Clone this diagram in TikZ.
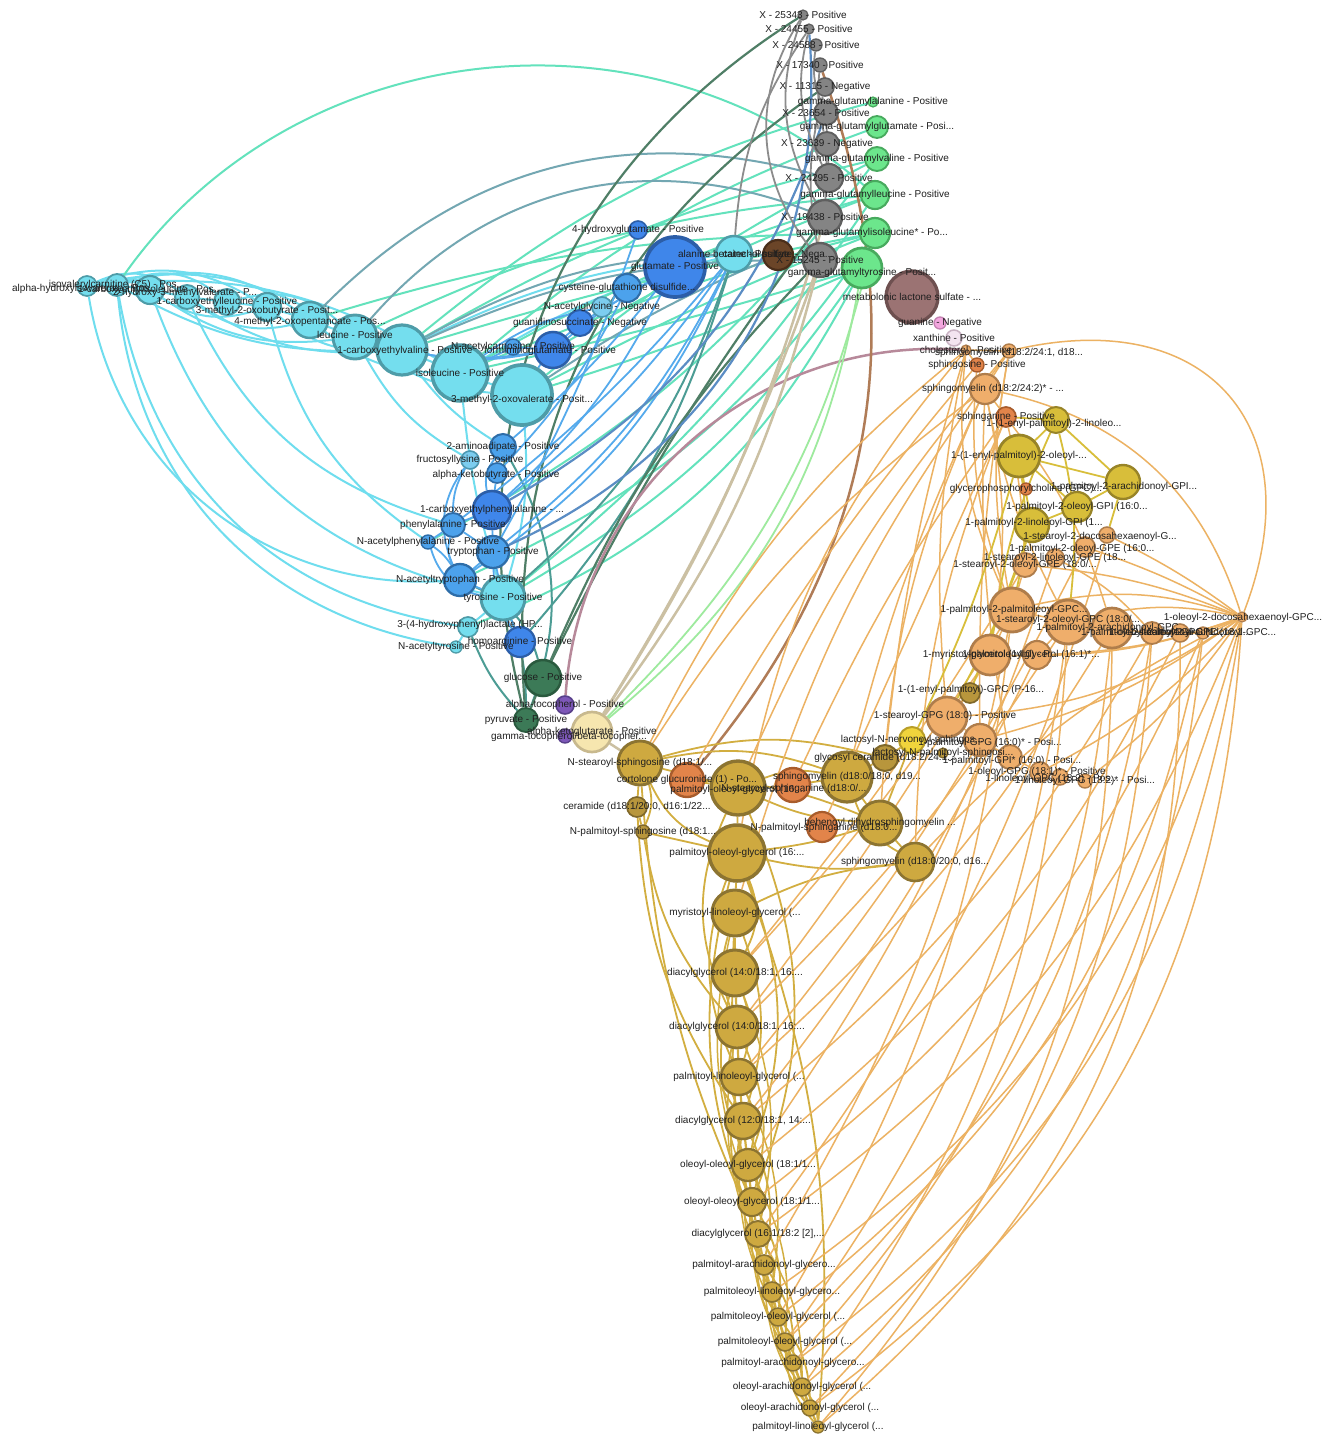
\documentclass[tikz,border=0pt]{standalone}
\usepackage{fontspec}
\setmainfont{Liberation Sans}
\pgfdeclarelayer{bg}\pgfdeclarelayer{edges}\pgfdeclarelayer{labs}
\pgfsetlayers{bg,edges,main,labs}
% node colours
\definecolor{cyF}{HTML}{74DEEE}\definecolor{cyD}{HTML}{4E9CA8}
\definecolor{blF}{HTML}{3F86EA}\definecolor{blD}{HTML}{2C5EA8}
\definecolor{mbF}{HTML}{4CA2EC}\definecolor{mbD}{HTML}{2E6DA8}
\definecolor{lbF}{HTML}{7CCDEF}\definecolor{lbD}{HTML}{4C97B0}
\definecolor{grF}{HTML}{848484}\definecolor{grD}{HTML}{5F5F5F}
\definecolor{gnF}{HTML}{6CE68C}\definecolor{gnD}{HTML}{48AA5E}
\definecolor{brF}{HTML}{6B4528}\definecolor{brD}{HTML}{4A2E1A}
\definecolor{mvF}{HTML}{9B7373}\definecolor{mvD}{HTML}{6E5050}
\definecolor{pkF}{HTML}{F2A6DE}\definecolor{pkD}{HTML}{C482B2}
\definecolor{xnF}{HTML}{F3E4F0}\definecolor{xnD}{HTML}{C9B2C3}
\definecolor{dgF}{HTML}{3C7A57}\definecolor{dgD}{HTML}{2A5A3E}
\definecolor{ppF}{HTML}{7D57B8}\definecolor{ppD}{HTML}{58408A}
\definecolor{lyF}{HTML}{F6E6AF}\definecolor{lyD}{HTML}{C8B98E}
\definecolor{gdF}{HTML}{CEA940}\definecolor{gdD}{HTML}{8C7431}
\definecolor{ywF}{HTML}{D8BE3A}\definecolor{ywD}{HTML}{988428}
\definecolor{loF}{HTML}{EFAE6B}\definecolor{loD}{HTML}{AF7D4B}
\definecolor{doF}{HTML}{E2844A}\definecolor{doD}{HTML}{A85C2C}
\definecolor{byF}{HTML}{F0D43C}\definecolor{byD}{HTML}{B89E28}
\definecolor{kgF}{HTML}{B8963C}\definecolor{kgD}{HTML}{80682A}
% edge colours
\definecolor{eCy}{HTML}{6FDDEE}\definecolor{eAq}{HTML}{63E2BC}
\definecolor{eBl}{HTML}{55AAEC}\definecolor{eSb}{HTML}{5B8DC4}
\definecolor{eGb}{HTML}{73A7B2}\definecolor{eDt}{HTML}{4C9C94}
\definecolor{eDg}{HTML}{4F7E66}\definecolor{eGr}{HTML}{8C8C8C}
\definecolor{eGd}{HTML}{D2AE40}\definecolor{eOr}{HTML}{ECB263}
\definecolor{eMv}{HTML}{B7899A}\definecolor{eBr}{HTML}{B07C57}
\definecolor{eTn}{HTML}{CBC0A3}\definecolor{eLg}{HTML}{9EEA9E}
\definecolor{eYw}{HTML}{D8BE3A}
\tikzset{
 nd/.style 2 args={circle,inner sep=0pt,fill=#1,draw=#2},
 cyn/.style={nd={cyF}{cyD}}, blu/.style={nd={blF}{blD}}, mbl/.style={nd={mbF}{mbD}},
 lbl/.style={nd={lbF}{lbD}}, gry/.style={nd={grF}{grD}}, grn/.style={nd={gnF}{gnD}},
 brn/.style={nd={brF}{brD}}, mve/.style={nd={mvF}{mvD}}, pnk/.style={nd={pkF}{pkD}},
 xnt/.style={nd={xnF}{xnD}}, dgn/.style={nd={dgF}{dgD}}, prp/.style={nd={ppF}{ppD}},
 lye/.style={nd={lyF}{lyD}}, gld/.style={nd={gdF}{gdD}}, ylw/.style={nd={ywF}{ywD}},
 lor/.style={nd={loF}{loD}}, dor/.style={nd={doF}{doD}}, byl/.style={nd={byF}{byD}},
 kgd/.style={nd={kgF}{kgD}},
 txt/.style={inner sep=0pt,font=\fontsize{10}{12}\selectfont,text=black!88},
 ecy/.style={draw=eCy,line width=2pt}, eaq/.style={draw=eAq,line width=2pt},
 ebl/.style={draw=eBl,line width=1.8pt}, esb/.style={draw=eSb,line width=2.2pt},
 egb/.style={draw=eGb,line width=2pt}, edt/.style={draw=eDt,line width=2pt},
 edg/.style={draw=eDg,line width=2.2pt}, egr/.style={draw=eGr,line width=1.8pt},
 egd/.style={draw=eGd,line width=1.8pt}, eor/.style={draw=eOr,line width=1.5pt},
 emv/.style={draw=eMv,line width=2.5pt}, ebr/.style={draw=eBr,line width=2.5pt},
 etn/.style={draw=eTn,line width=2.5pt}, elg/.style={draw=eLg,line width=1.8pt},
 eyw/.style={draw=eYw,line width=1.8pt}
}
\newcommand\circnode[5]{\node[#5,minimum size={2*#4*1pt},line width={(0.7+0.1*#4)*1pt}] (#1) at (#2,#3) {};}
\newcommand\labnode[2]{\node[txt] (t-#1) at (#1) {#2};}
\newcommand\labshift[4]{\node[txt,xshift={(#2)*1pt},yshift={-1*(#3)*1pt}] (t-#1) at (#1) {#4};}
\begin{document}
\begin{tikzpicture}[x=1pt,y=-1pt]
\useasboundingbox (0,0) rectangle (1324,1435);
\begin{pgfonlayer}{bg}\fill[white] (0,0) rectangle (1324,1435);\end{pgfonlayer}
% ---------------- nodes ----------------
\circnode{x253}{803}{15}{5}{gry}
\circnode{x244}{809}{29}{5}{gry}
\circnode{x245}{816}{45}{6}{gry}
\circnode{x173}{820}{65}{7}{gry}
\circnode{x113}{825}{87}{9}{gry}
\circnode{x236}{826}{113}{12}{gry}
\circnode{x239}{827}{144}{12}{gry}
\circnode{x242}{829}{178}{14}{gry}
\circnode{x194}{825}{217}{17}{gry}
\circnode{x152}{820}{260}{17}{gry}
\circnode{gga}{873}{102}{5}{grn}
\circnode{ggg}{877}{127}{11}{grn}
\circnode{ggv}{877}{159}{12}{grn}
\circnode{ggl}{875}{195}{14}{grn}
\circnode{ggi}{875}{233}{15}{grn}
\circnode{ggt}{862}{268}{20}{grn}
\circnode{cy1}{734}{254}{18}{cyn}
\circnode{cat}{778}{255}{15}{brn}
\circnode{mls}{912}{297}{26}{mve}
\circnode{gua}{940}{323}{6}{pnk}
\circnode{xan}{954}{338}{8}{xnt}
% left cyan cluster
\circnode{ahiv}{87}{286}{10}{cyn}
\circnode{c2}{117}{285}{11}{cyn}
\circnode{ceil}{150}{290}{14}{cyn}
\circnode{hmv}{187}{297}{12}{cyn}
\circnode{cel}{227}{302}{13}{cyn}
\circnode{mob}{267}{307}{14}{cyn}
\circnode{mop}{310}{320}{18}{cyn}
\circnode{leu}{355}{337}{22}{cyn}
\circnode{cev}{402}{350}{25}{cyn}
\circnode{ile}{460}{373}{28}{cyn}
\circnode{mov}{522}{395}{30}{cyn}
% blue
\circnode{nac}{513}{347}{8}{mbl}
\circnode{fig}{553}{350}{18}{blu}
\circnode{gsu}{580}{323}{13}{blu}
\circnode{nag}{602}{307}{10}{lbl}
\circnode{cgd}{627}{288}{14}{mbl}
\circnode{glu}{675}{267}{30}{blu}
\circnode{hgl}{638}{230}{9}{blu}
\circnode{aad}{503}{447}{13}{mbl}
\circnode{fru}{470}{460}{9}{lbl}
\circnode{akb}{497}{473}{10}{mbl}
\circnode{cep}{492}{510}{19}{blu}
\circnode{phe}{453}{525}{12}{mbl}
\circnode{nap}{428}{542}{7}{mbl}
\circnode{trp}{493}{552}{16}{mbl}
\circnode{nat}{460}{580}{16}{mbl}
\circnode{tyr}{503}{598}{22}{cyn}
\circnode{hpl}{468}{627}{10}{cyn}
\circnode{har}{520}{642}{15}{blu}
\circnode{naty}{456}{647}{6}{cyn}
\circnode{glc}{543}{678}{18}{dgn}
\circnode{ato}{565}{705}{9}{prp}
\circnode{pyr}{526}{720}{12}{dgn}
\circnode{akg}{592}{732}{20}{lye}
\circnode{gto}{565}{736}{7}{prp}
% sphingolipids
\circnode{nss}{640}{763}{22}{gld}
\circnode{cor}{687}{780}{17}{dor}
\circnode{pog1}{738}{788}{27}{gld}
\circnode{nsa}{793}{785}{17}{dor}
\circnode{sm1}{847}{777}{25}{gld}
\circnode{cer}{637}{807}{10}{kgd}
\circnode{nps}{643}{832}{7}{kgd}
\circnode{pog2}{737}{853}{28}{gld}
\circnode{npa}{822}{827}{15}{dor}
\circnode{bds}{880}{823}{22}{gld}
\circnode{sm2}{915}{862}{19}{gld}
% glycerol column
\circnode{d1}{735}{913}{23}{gld}
\circnode{d2}{735}{973}{23}{gld}
\circnode{d3}{737}{1027}{21}{gld}
\circnode{d4}{739}{1077}{18}{gld}
\circnode{d5}{743}{1121}{18}{gld}
\circnode{d6}{748}{1165}{16}{gld}
\circnode{d7}{752}{1202}{14}{gld}
\circnode{d8}{758}{1234}{13}{gld}
\circnode{d9}{764}{1265}{10}{gld}
\circnode{d10}{772}{1292}{10}{gld}
\circnode{d11}{778}{1317}{9}{gld}
\circnode{d12}{785}{1342}{9}{gld}
\circnode{d13}{793}{1363}{8}{gld}
\circnode{d14}{802}{1387}{9}{gld}
\circnode{d15}{810}{1408}{8}{gld}
\circnode{d16}{818}{1427}{6}{gld}
% right cluster
\circnode{cho}{966}{350}{5}{lor}
\circnode{smA}{1009}{351}{7}{lor}
\circnode{sph}{977}{365}{7}{dor}
\circnode{smB}{985}{389}{15}{lor}
\circnode{sng}{1006}{417}{10}{dor}
\circnode{epl}{1056}{420}{13}{ylw}
\circnode{epo}{1019}{456}{21}{ylw}
\circnode{gpc}{1026}{489}{6}{dor}
\circnode{pagi}{1123}{482}{17}{ylw}
\circnode{pogi}{1077}{507}{15}{ylw}
\circnode{plgi}{1032}{525}{17}{ylw}
\circnode{sdg}{1107}{535}{8}{lor}
\circnode{poge}{1085}{547}{10}{lor}
\circnode{slge}{1055}{558}{9}{lor}
\circnode{soge}{1025}{565}{12}{lor}
\circnode{ppg}{1012}{610}{22}{lor}
\circnode{sogc}{1068}{622}{22}{lor}
\circnode{pag}{1112}{628}{20}{lor}
\circnode{plg}{1152}{633}{11}{lor}
\circnode{olg}{1180}{633}{9}{lor}
\circnode{sag}{1203}{633}{6}{lor}
\circnode{odg}{1242}{617}{5}{lor}
\circnode{mg}{990}{655}{20}{lor}
\circnode{pmg}{1037}{655}{14}{lor}
\circnode{epg}{970}{693}{10}{kgd}
\circnode{sgpg}{947}{717}{20}{lor}
\circnode{lnn}{912}{740}{13}{byl}
\circnode{pgpg}{980}{740}{16}{lor}
\circnode{lnp}{943}{753}{5}{kgd}
\circnode{gcer}{885}{758}{13}{kgd}
\circnode{pgpi}{1010}{757}{12}{lor}
\circnode{ogpg}{1040}{772}{10}{lor}
\circnode{lgpc}{1060}{777}{8}{lor}
\circnode{lgpg}{1085}{781}{7}{lor}
% ---------------- edges ----------------
\begin{pgfonlayer}{edges}
\foreach \a/\b/\c in {ahiv/c2/0, c2/ceil/0, ceil/hmv/0, hmv/cel/0, cel/mob/0, mob/mop/0, mop/leu/0, leu/cev/0, cev/ile/0, ile/mov/0,
 ahiv/ceil/25, ahiv/hmv/30, ahiv/mob/25, ahiv/leu/22, c2/cel/30, c2/mop/25, ceil/mob/-25, ceil/leu/-20, hmv/mop/-25, hmv/cev/-18, cel/leu/28, mob/cev/-20, mop/ile/-18, leu/mov/-15, ahiv/ile/18, c2/cev/-15,
 ahiv/nat/-42, c2/hpl/-36, ceil/tyr/-28, hmv/phe/-24, mob/nap/-20, leu/fru/-15, cev/aad/-10, ile/tyr/-5, mov/tyr/10, c2/naty/-38, cev/cy1/10, ile/cy1/8, tyr/hpl/0, hpl/naty/0}
 {\draw[ecy] (\a) to[bend left=\c] (\b);}
\foreach \a/\b/\c in {c2/ggl/48, cev/gga/12, cev/ggv/8, ile/ggg/10, ile/ggl/6, ile/ggi/4, mov/ggv/6, mov/ggi/3, mov/ggt/-3, leu/ggl/10, mop/ggi/8, tyr/ggt/-12, nat/ggi/-15, hpl/ggt/-20, tyr/ggl/-8, cev/ggi/3, ile/ggt/-2, fig/ggl/5, nap/ggv/-12}
 {\draw[eaq] (\a) to[bend left=\c] (\b);}
\foreach \a/\b/\c in {leu/x194/35, mop/x242/30, cev/x152/12, mov/cat/5, cev/cat/15}
 {\draw[egb] (\a) to[bend left=\c] (\b);}
\foreach \a/\b/\c in {cy1/tyr/15, aad/pyr/25, nat/glc/25, cy1/har/12, hpl/pyr/-10, tyr/pyr/10}
 {\draw[edt] (\a) to[bend left=\c] (\b);}
\foreach \a/\b/\c in {pyr/x253/36, glc/x152/10, glc/x194/5, pyr/x113/30, glc/pyr/0}
 {\draw[edg] (\a) to[bend left=\c] (\b);}
\draw[emv] (ato) to[bend left=45] (cho);
\draw[ebr] (x173) to[bend left=30] (cor);
\foreach \a/\b/\c in {akg/x152/-6, akg/x152/-11, akg/x194/-8, akg/gto/0, akg/nss/0}
 {\draw[etn] (\a) to[bend left=\c] (\b);}
\foreach \a/\b/\c in {ggt/akg/20, ggi/akg/16}
 {\draw[elg] (\a) to[bend left=\c] (\b);}
\foreach \a/\b/\c in {cep/cy1/-8, trp/cy1/-12, phe/cy1/-6, nat/cy1/-15, aad/glu/-5, cep/glu/-10, akb/cgd/-8, trp/hgl/-5, phe/trp/0, phe/nap/0, nap/nat/10, nat/trp/0, cep/trp/0, cep/phe/0, aad/akb/0, akb/cep/0, fru/phe/-15, aad/cep/-25, nat/tyr/0, trp/tyr/0, phe/nat/-20, nap/tyr/-30, fru/nat/-30, ile/nac/0, cev/fig/-10, mov/gsu/8, ile/nag/12, leu/fig/-12, fig/glu/5, nac/fig/0, gsu/glu/0, har/tyr/0, trp/har/-15}
 {\draw[ebl] (\a) to[bend left=\c] (\b);}
\foreach \a/\b/\c in {x244/trp/35, x236/cep/20}
 {\draw[esb] (\a) to[bend left=\c] (\b);}
\foreach \a/\b/\c in {x253/x152/-35, x253/x194/-25, x244/x242/-20, x245/x236/-15, x173/x239/-10, x113/x152/-12, x244/cy1/-15, x236/x242/0, x239/x194/0}
 {\draw[egr] (\a) to[bend left=\c] (\b);}
% glycerol column
\foreach \i in {1,...,15}{\pgfmathtruncatemacro\j{\i+1}\draw[egd,line width=2.2pt] (d\i) -- (d\j);}
\foreach \i in {1,...,14}{\pgfmathtruncatemacro\j{\i+2}\pgfmathtruncatemacro\bb{ifthenelse(mod(\i,2)==0,18,-18)}\draw[egd] (d\i) to[bend left=\bb] (d\j);}
\foreach \i in {1,...,12}{\pgfmathtruncatemacro\j{\i+4}\pgfmathtruncatemacro\bb{ifthenelse(mod(\i,2)==0,-18,18)}\draw[egd] (d\i) to[bend left=\bb] (d\j);}
\foreach \i in {1,...,9}{\pgfmathtruncatemacro\j{\i+6}\pgfmathtruncatemacro\bb{ifthenelse(mod(\i,2)==0,16,-16)}\draw[egd,line width=1.5pt] (d\i) to[bend left=\bb] (d\j);}
\foreach \a/\b/\c in {pog2/d1/0, pog1/pog2/0, pog2/d2/25, pog2/d4/-22, pog2/d6/20, pog2/d8/-18, pog1/d3/-25, pog1/d7/22, nss/d8/-10, nss/pog1/0, nss/cer/0, cer/nps/0, nss/nps/20, nps/pog2/0, pog1/sm1/15, sm1/bds/0, bds/sm2/0, sm1/sm2/-20, nss/sm1/15, cor/pog1/0, nsa/sm1/0, pog2/sm2/-10, pog1/bds/-10, nss/pog2/-20, sm1/gcer/0, bds/lnn/0, gcer/lnn/0, nss/gcer/15, cor/bds/10, d1/sm2/10, pog2/bds/-5, nps/d3/-15, cer/d5/-15, d1/d16/-12, pog2/d16/12}
 {\draw[egd] (\a) to[bend left=\c] (\b);}
\foreach \a/\b/\c in {smB/nss/-10, smA/pog1/-8, cho/nss/-12, sph/cor/-5, sng/nsa/-5, smB/sm1/-5, sng/npa/0, cho/pog2/-15, smA/d1/-10,
 ppg/d2/5, sogc/d3/6, pag/d4/8, plg/d5/10, olg/d6/12, sag/d7/14, odg/d8/16, odg/d10/20, sag/d11/20, plg/d12/18, pag/d13/18, sogc/d14/16, odg/d15/25, olg/d16/25, ppg/d9/10, mg/d3/3, pmg/d5/6, soge/d2/4, poge/d4/6, slge/d6/8, sdg/d8/10, ppg/d11/12, sogc/d12/14, odg/d13/22, sag/d14/22, plg/d15/20, pag/d16/20,
 ppg/sogc/0, sogc/pag/0, pag/plg/0, plg/olg/0, olg/sag/0, sag/odg/0, ppg/pag/15, ppg/odg/15, sogc/odg/12, soge/odg/8, poge/odg/5, slge/plg/10, sdg/odg/5, smB/odg/30, sng/pag/10, cho/ppg/-15, smA/ppg/-10, smB/sogc/-8, sph/ppg/-12, soge/ppg/0, mg/ppg/0, pmg/sogc/0, pgpg/sgpg/0, epg/sgpg/0, mg/sgpg/0, pgpi/pgpg/0, ogpg/pgpi/0, lgpc/ogpg/0, mg/odg/-10, pmg/odg/-8, sgpg/odg/-15, pgpg/odg/-10, ogpg/odg/-10, lgpg/odg/-8, smB/bds/-10, sng/sm2/-10, cho/gcer/-5, odg/sm2/-10, cho/smA/0, sph/smB/0, smB/sng/0, cho/sph/0, smA/smB/0, sng/soge/5, smB/mg/10, smA/pgpg/-5, cho/sgpg/-8, smB/pgpi/-6}
 {\draw[eor] (\a) to[bend left=\c] (\b);}
\draw[eor] (smA) to[bend left=62,looseness=1.45] (odg);
\foreach \a/\b/\c in {epl/epo/0, epo/plgi/0, pagi/pogi/0, pogi/plgi/0, epo/pagi/0, epo/ppg/10, epl/sogc/10, epo/lnn/5, plgi/sgpg/5, pagi/sdg/0, epo/pogi/0, epl/pagi/0, sng/epl/0, epl/mg/-8, plgi/epg/0}
 {\draw[eyw] (\a) to[bend left=\c] (\b);}
\end{pgfonlayer}
% ---------------- labels ----------------
\begin{pgfonlayer}{labs}
\labnode{x253}{X - 25343 - Positive}
\labnode{x244}{X - 24455 - Positive}
\labnode{x245}{X - 24588 - Positive}
\labnode{x173}{X - 17340 - Positive}
\labnode{x113}{X - 11315 - Negative}
\labnode{x236}{X - 23654 - Positive}
\labnode{x239}{X - 23639 - Negative}
\labnode{x242}{X - 24295 - Positive}
\labnode{x194}{X - 19438 - Positive}
\labnode{x152}{X - 15245 - Positive}
\labnode{gga}{gamma-glutamylalanine - Positive}
\labnode{ggg}{gamma-glutamylglutamate - Posi...}
\labnode{ggv}{gamma-glutamylvaline - Positive}
\labnode{ggl}{gamma-glutamylleucine - Positive}
\labshift{ggi}{-3}{0}{gamma-glutamylisoleucine* - Po...}
\labshift{ggt}{0}{5}{gamma-glutamyltyrosine - Posit...}
\labnode{cy1}{alanine betaine - Positive}
\labnode{cat}{catechol sulfate - Nega...}
\labnode{mls}{metabolonic lactone sulfate - ...}
\labnode{gua}{guanine - Negative}
\labnode{xan}{xanthine - Positive}
\labshift{ahiv}{-2}{3}{alpha-hydroxyisovalerate - Pos...}
\labnode{c2}{isovalerylcarnitine (C5) - Pos...}
\labnode{ceil}{1-carboxyethylisoleucine - Pos...}
\labshift{hmv}{-2}{-4}{2-hydroxy-3-methylvalerate - P...}
\labnode{cel}{1-carboxyethylleucine - Positive}
\labshift{mob}{0}{4}{3-methyl-2-oxobutyrate - Posit...}
\labshift{mop}{0}{2}{4-methyl-2-oxopentanoate - Pos...}
\labshift{leu}{0}{-2}{leucine - Positive}
\labshift{cev}{3}{1}{1-carboxyethylvaline - Positive}
\labnode{ile}{isoleucine - Positive}
\labshift{mov}{0}{5}{3-methyl-2-oxovalerate - Posit...}
\labnode{nac}{N-acetylcarnosine - Positive}
\labshift{fig}{-3}{1}{formiminoglutamate - Positive}
\labnode{gsu}{guanidinosuccinate - Negative}
\labnode{nag}{N-acetylglycine - Negative}
\labnode{cgd}{cysteine-glutathione disulfide...}
\labnode{glu}{glutamate - Positive}
\labnode{hgl}{4-hydroxyglutamate - Positive}
\labnode{aad}{2-aminoadipate - Positive}
\labnode{fru}{fructosyllysine - Positive}
\labshift{akb}{-1}{2}{alpha-ketobutyrate - Positive}
\labnode{cep}{1-carboxyethylphenylalanine - ...}
\labnode{phe}{phenylalanine - Positive}
\labnode{nap}{N-acetylphenylalanine - Positive}
\labnode{trp}{tryptophan - Positive}
\labnode{nat}{N-acetyltryptophan - Positive}
\labnode{tyr}{tyrosine - Positive}
\labshift{hpl}{2}{-2}{3-(4-hydroxyphenyl)lactate (HP...}
\labnode{har}{homoarginine - Positive}
\labnode{naty}{N-acetyltyrosine - Positive}
\labnode{glc}{glucose - Positive}
\labnode{ato}{alpha-tocopherol - Positive}
\labnode{pyr}{pyruvate - Positive}
\labnode{akg}{alpha-ketoglutarate - Positive}
\labshift{gto}{4}{1}{gamma-tocopherol/beta-tocopher...}
\labnode{nss}{N-stearoyl-sphingosine (d18:1/...}
\labnode{cor}{cortolone glucuronide (1) - Po...}
\labshift{pog1}{0}{2}{palmitoyl-oleoyl-glycerol (16:...}
\labshift{nsa}{1}{4}{N-stearoyl-sphinganine (d18:0/...}
\labnode{sm1}{sphingomyelin (d18:0/18:0, d19...}
\labnode{cer}{ceramide (d18:1/20:0, d16:1/22...}
\labnode{nps}{N-palmitoyl-sphingosine (d18:1...}
\labnode{pog2}{palmitoyl-oleoyl-glycerol (16:...}
\labshift{npa}{2}{1}{N-palmitoyl-sphinganine (d18:0...}
\labnode{bds}{behenoyl dihydrosphingomyelin ...}
\labnode{sm2}{sphingomyelin (d18:0/20:0, d16...}
\labnode{d1}{myristoyl-linoleoyl-glycerol (...}
\labnode{d2}{diacylglycerol (14:0/18:1, 16:...}
\labnode{d3}{diacylglycerol (14:0/18:1, 16:...}
\labnode{d4}{palmitoyl-linoleoyl-glycerol (...}
\labnode{d5}{diacylglycerol (12:0/18:1, 14:...}
\labnode{d6}{oleoyl-oleoyl-glycerol (18:1/1...}
\labnode{d7}{oleoyl-oleoyl-glycerol (18:1/1...}
\labnode{d8}{diacylglycerol (16:1/18:2 [2],...}
\labnode{d9}{palmitoyl-arachidonoyl-glycero...}
\labnode{d10}{palmitoleoyl-linoleoyl-glycero...}
\labnode{d11}{palmitoleoyl-oleoyl-glycerol (...}
\labnode{d12}{palmitoleoyl-oleoyl-glycerol (...}
\labnode{d13}{palmitoyl-arachidonoyl-glycero...}
\labnode{d14}{oleoyl-arachidonoyl-glycerol (...}
\labnode{d15}{oleoyl-arachidonoyl-glycerol (...}
\labnode{d16}{palmitoyl-linoleoyl-glycerol (...}
\labnode{cho}{cholesterol - Positive}
\labshift{smA}{0}{2}{sphingomyelin (d18:2/24:1, d18...}
\labnode{sph}{sphingosine - Positive}
\labshift{smB}{8}{0}{sphingomyelin (d18:2/24:2)* - ...}
\labnode{sng}{sphinganine - Positive}
\labshift{epl}{-2}{4}{1-(1-enyl-palmitoyl)-2-linoleo...}
\labnode{epo}{1-(1-enyl-palmitoyl)-2-oleoyl-...}
\labnode{gpc}{glycerophosphorylcholine (GPC)...}
\labshift{pagi}{1}{5}{1-palmitoyl-2-arachidonoyl-GPI...}
\labnode{pogi}{1-palmitoyl-2-oleoyl-GPI (16:0...}
\labshift{plgi}{2}{-2}{1-palmitoyl-2-linoleoyl-GPI (1...}
\labshift{sdg}{-7}{2}{1-stearoyl-2-docosahexaenoyl-G...}
\labshift{poge}{-3}{2}{1-palmitoyl-2-oleoyl-GPE (16:0...}
\labnode{slge}{1-stearoyl-2-linoleoyl-GPE (18...}
\labnode{soge}{1-stearoyl-2-oleoyl-GPE (18:0/...}
\labshift{ppg}{2}{0}{1-palmitoyl-2-palmitoleoyl-GPC...}
\labshift{sogc}{0}{-2}{1-stearoyl-2-oleoyl-GPC (18:0/...}
\labnode{pag}{1-palmitoyl-2-arachidonoyl-GPC...}
\labnode{plg}{1-palmitoyl-2-linoleoyl-GPC (1...}
\labnode{olg}{1-oleoyl-2-linoleoyl-GPC (18:1...}
\labnode{sag}{1-stearoyl-2-arachidonoyl-GPC...}
\labshift{odg}{1}{1}{1-oleoyl-2-docosahexaenoyl-GPC...}
\labnode{mg}{1-myristoylglycerol (14:0) - P...}
\labshift{pmg}{-6}{0}{1-palmitoleoylglycerol (16:1)*...}
\labshift{epg}{1}{-3}{1-(1-enyl-palmitoyl)-GPC (P-16...}
\labshift{sgpg}{-2}{-1}{1-stearoyl-GPG (18:0) - Positive}
\labnode{lnn}{lactosyl-N-nervonoyl-sphingos...}
\labshift{pgpg}{10}{3}{1-palmitoyl-GPG (16:0)* - Posi...}
\labnode{lnp}{lactosyl-N-palmitoyl-sphingosi...}
\labnode{gcer}{glycosyl ceramide (d18:2/24:1...}
\labshift{pgpi}{2}{4}{1-palmitoyl-GPI* (16:0) - Posi...}
\labshift{ogpg}{-3}{0}{1-oleoyl-GPG (18:1)* - Positive}
\labshift{lgpc}{-8}{2}{1-linoleoyl-GPC (18:2) - Pos...}
\labshift{lgpg}{0}{0}{1-linoleoyl-GPG (18:2)* - Posi...}
\end{pgfonlayer}
\end{tikzpicture}
\end{document}
